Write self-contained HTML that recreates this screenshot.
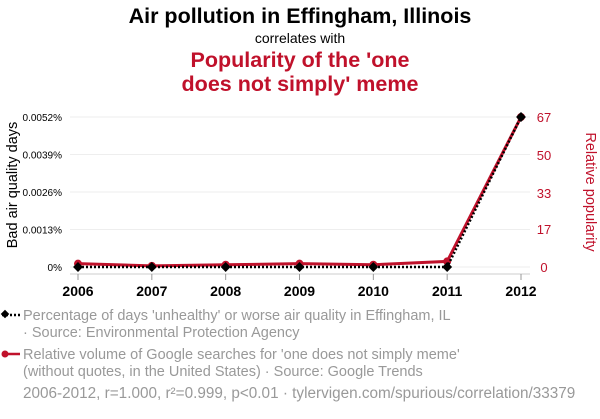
<!DOCTYPE html>
<html><head><meta charset="utf-8"><style>
body{margin:0;background:#fff;width:600px;height:414px;overflow:hidden;font-family:"Liberation Sans",sans-serif}
</style></head><body>
<svg width="600" height="414" xmlns="http://www.w3.org/2000/svg" font-family="Liberation Sans, sans-serif">
<text x="300" y="23" text-anchor="middle" font-size="21.5" font-weight="bold" fill="#000">Air pollution in Effingham, Illinois</text>
<text x="300" y="43" text-anchor="middle" font-size="14" fill="#000">correlates with</text>
<text x="300" y="67" text-anchor="middle" font-size="21.5" font-weight="bold" fill="#c0112b">Popularity of the 'one</text>
<text x="300" y="91" text-anchor="middle" font-size="21.5" font-weight="bold" fill="#c0112b">does not simply' meme</text>
<g id="grid"></g>
<g id="axes"></g>
<g id="series"></g>
<text transform="translate(17,185) rotate(-90)" text-anchor="middle" font-size="14.5" fill="#000">Bad air quality days</text>
<text transform="translate(586,192) rotate(90)" text-anchor="middle" font-size="14.5" fill="#c0112b">Relative popularity</text>
<g>
<line x1="2" y1="315" x2="20" y2="315" stroke="#000" stroke-width="2.5" stroke-dasharray="2,2"/>
<rect x="2" y="311" width="6" height="6" transform="rotate(45 5 314)" fill="#000"/>
<text x="23" y="320" font-size="14.5" fill="#999">Percentage of days 'unhealthy' or worse air quality in Effingham, IL</text>
<text x="23" y="337" font-size="14.5" fill="#999">· Source: Environmental Protection Agency</text>
</g>
<g>
<line x1="2" y1="354" x2="20" y2="354" stroke="#c0112b" stroke-width="2.5"/>
<circle cx="5" cy="354" r="3.5" fill="#c0112b"/>
<text x="23" y="359" font-size="14.5" fill="#999">Relative volume of Google searches for 'one does not simply meme'</text>
<text x="23" y="376" font-size="14.5" fill="#999">(without quotes, in the United States) · Source: Google Trends</text>
</g>
<text x="23" y="398" font-size="15.3" fill="#999">2006-2012, r=1.000, r²=0.999, p&lt;0.01 · tylervigen.com/spurious/correlation/33379</text>
</svg>
<script>
const years=[2006,2007,2008,2009,2010,2011,2012];
const pollution=[0,0,0,0,0,0,0.0052];
const popularity=[1.5,0.5,1,1.5,1,2.5,67];
const leftTicks=[0,0.0013,0.0026,0.0039,0.0052];
const leftLabels=["0%","0.0013%","0.0026%","0.0039%","0.0052%"];
const rightTicks=[0,17,33,50,67];
const NS="http://www.w3.org/2000/svg";
const x=v=>78+(v-2006)*(521-78)/6;
const yL=v=>267-v/0.0052*150;
const yR=v=>267-v/67*150;
function mk(tag,attrs,parent,txt){const e=document.createElementNS(NS,tag);for(const k in attrs)e.setAttribute(k,attrs[k]);if(txt!==undefined)e.textContent=txt;document.getElementById(parent).appendChild(e);return e;}
leftTicks.forEach((t,i)=>{
 const g=mk('line',{x1:70,x2:530,y1:yL(t),y2:yL(t),stroke:'#eee','stroke-width':1},'grid');
 
 
 const l=mk('text',{x:62,y:yL(t)+4,'text-anchor':'end','font-size':10,fill:'#000'},'axes',leftLabels[i]);
 
 
});
rightTicks.forEach(t=>{
 const l=mk('text',{x:544,y:yR(t)+5,'text-anchor':'middle','font-size':13,fill:'#c0112b'},'axes',t);
 
 
});
const ax=mk('line',{x1:70,x2:530,y1:274,y2:274,stroke:'#ccc','stroke-width':1},'axes');


years.forEach(yr=>{
 const tk=mk('line',{x1:x(yr),x2:x(yr),y1:274,y2:280,stroke:'#999'},'axes');
 
 
 const l=mk('text',{x:x(yr),y:296,'text-anchor':'middle','font-size':14,'font-weight':'bold',fill:'#000'},'axes',yr);
 
 
});
const rl=mk('polyline',{points:years.map((yr,i)=>x(yr)+','+yR(popularity[i])).join(' '),fill:'none',stroke:'#c0112b','stroke-width':3},'series');


years.forEach((yr,i)=>{const c=mk('circle',{cx:x(yr),cy:yR(popularity[i]),r:4,fill:'#c0112b'},'series');
 
 });
const bl=mk('polyline',{points:years.map((yr,i)=>x(yr)+','+yL(pollution[i])).join(' '),fill:'none',stroke:'#000','stroke-width':2.5,'stroke-dasharray':'2,2'},'series');


years.forEach((yr,i)=>{const px=x(yr),py=yL(pollution[i]);const r=mk('rect',{x:px-3.5,y:py-3.5,width:7,height:7,fill:'#000',transform:`rotate(45 ${px} ${py})`},'series');
 
 });
</script>
</body></html>
